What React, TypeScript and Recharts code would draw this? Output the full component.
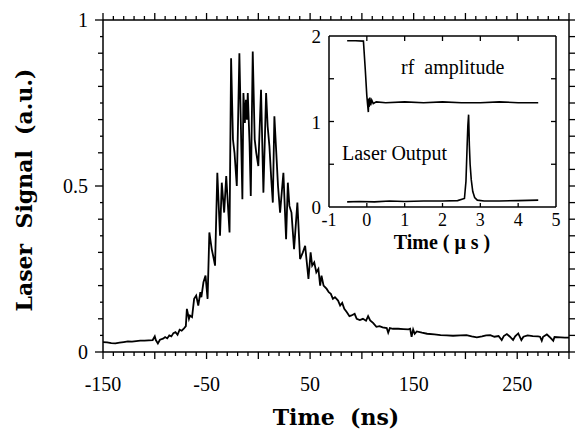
import React from 'react';
import { LineChart, Line, XAxis, YAxis } from 'recharts';

// main trace: laser signal vs time (ns)
const timeNs = [
  -150, -146, -142, -138, -134, -130, -126, -122, -118, -114, -110, -106, -102, -100, -99, -97, -95, -92, -90, -88,
  -86, -84, -82, -80, -78, -76, -74, -72, -70, -69, -67, -66, -64, -62, -60, -58, -56, -55, -53, -51,
  -49, -47.3, -45, -43, -41.8, -39.6, -37, -35.3, -33, -31, -29.5, -27.8, -26.3, -24.5, -23, -20.8, -18.3, -15.4, -14.4, -13,
  -12, -11, -10.2, -8.5, -7.3, -5.4, -3.5, -2, 0, 2.6, 4.9, 7.5, 9, 10.7, 12.5, 14, 15.5, 17, 19, 21,
  24.2, 26.8, 28.5, 30, 32, 34.5, 37.7, 40.3, 43, 45.2, 48.4, 50.5, 52, 54, 56, 58, 59.7, 61, 63, 66,
  68, 70, 72, 74, 77, 79, 81, 83, 85.5, 88, 90, 93, 95, 98, 101, 104, 106, 108, 111, 114,
  117, 120, 124, 125.4, 127, 130, 135, 140, 145, 146.6, 148, 149.5, 151, 153, 158, 163, 170, 176, 182, 188,
  195, 201, 206, 211, 216, 220, 224, 228, 232, 235, 237, 240, 243, 246, 248, 251, 254, 256, 260, 265,
  270, 272, 273.7, 275, 278.6, 281, 284.8, 286, 292, 296, 300,
];
const signal = [
  0.03, 0.029, 0.027, 0.026, 0.028, 0.03, 0.032, 0.031, 0.033, 0.034, 0.034, 0.035, 0.036, 0.047, 0.036, 0.026, 0.037, 0.04, 0.045, 0.041,
  0.05, 0.047, 0.057, 0.06, 0.052, 0.067, 0.064, 0.07, 0.078, 0.13, 0.1, 0.11, 0.105, 0.16, 0.17, 0.14, 0.18, 0.165, 0.21, 0.23,
  0.16, 0.36, 0.31, 0.28, 0.26, 0.54, 0.35, 0.51, 0.42, 0.53, 0.45, 0.36, 0.885, 0.64, 0.6, 0.5, 0.9, 0.46, 0.78, 0.69,
  0.76, 0.7, 0.78, 0.63, 0.47, 0.905, 0.64, 0.6, 0.56, 0.79, 0.48, 0.78, 0.68, 0.62, 0.52, 0.45, 0.71, 0.62, 0.5, 0.42,
  0.54, 0.34, 0.51, 0.44, 0.42, 0.31, 0.45, 0.28, 0.3, 0.32, 0.22, 0.3, 0.26, 0.27, 0.24, 0.25, 0.2, 0.23, 0.2, 0.19,
  0.18, 0.175, 0.16, 0.165, 0.155, 0.14, 0.148, 0.13, 0.12, 0.108, 0.11, 0.115, 0.1, 0.096, 0.1, 0.094, 0.108, 0.095, 0.087, 0.076,
  0.078, 0.074, 0.072, 0.058, 0.072, 0.07, 0.07, 0.069, 0.068, 0.07, 0.046, 0.068, 0.055, 0.062, 0.058, 0.055, 0.053, 0.051, 0.05, 0.049,
  0.05, 0.051, 0.047, 0.044, 0.047, 0.05, 0.051, 0.046, 0.048, 0.036, 0.048, 0.054, 0.046, 0.036, 0.047, 0.056, 0.036, 0.046, 0.05, 0.048,
  0.047, 0.046, 0.034, 0.046, 0.053, 0.046, 0.034, 0.045, 0.044, 0.043, 0.043,
];

// inset: rf amplitude and laser output vs time (us)
const rfTime = [-0.52, -0.3, -0.09, -0.04, 0.0, 0.02, 0.04, 0.05, 0.06, 0.08, 0.1, 0.13, 0.17, 0.25, 0.5, 1, 1.5, 2, 2.5, 3, 3.5, 4, 4.53];
const rfAmp = [1.945, 1.945, 1.94, 1.6, 1.3, 1.2, 1.11, 1.27, 1.17, 1.28, 1.19, 1.25, 1.21, 1.23, 1.22, 1.23, 1.22, 1.23, 1.22, 1.22, 1.23, 1.22, 1.22];
const laserTime = [-0.52, -0.2, 0.2, 0.6, 1.0, 1.5, 2.0, 2.4, 2.58, 2.62, 2.65, 2.67, 2.69, 2.71, 2.73, 2.76, 2.8, 2.85, 2.92, 3.1, 3.5, 4.0, 4.53];
const laserOut = [0.06, 0.065, 0.06, 0.07, 0.065, 0.07, 0.07, 0.075, 0.1, 0.3, 0.7, 0.95, 1.08, 0.72, 0.5, 0.32, 0.18, 0.11, 0.08, 0.07, 0.07, 0.075, 0.08];

const xLabels = [-150, -50, 50, 150, 250];
const yLabels = [0, 0.5, 1];
const insetXLabels = [-1, 0, 1, 2, 3, 4, 5];
const insetYLabels = [0, 1, 2];

const range = (a: number, b: number, step: number) => {
  const out: number[] = [];
  for (let v = a; v <= b + 1e-9; v += step) out.push(Math.round(v * 100) / 100);
  return out;
};
const xTicks = range(-150, 300, 10);
const yTicks = range(0, 1, 0.05);
const insetYTicks = [0, 0.5, 1, 1.5, 2];

const mainData = timeNs.map((t, i) => ({ t, s: signal[i] }));
const rfData = rfTime.map((t, i) => ({ t, v: rfAmp[i] }));
const laserData = laserTime.map((t, i) => ({ t, v: laserOut[i] }));

const serif = '"Liberation Serif", "Times New Roman", serif';
const titleFont = '"DejaVu Serif", serif';

const xLen = (v: number) => (Math.round(v) % 50 === 0 ? 7 : 4);
const yLen = (v: number) => {
  const k = Math.round(v * 100);
  if (k % 50 === 0) return 8;
  if (k % 10 === 0) return 5;
  return 3;
};

const num = (a: any) => Number(a);

// tick mark drawn as a path from (x, y) by (dx, dy)
const Mark = ({ x, y, dx, dy }: { x: number; y: number; dx: number; dy: number }) => (
  <path d={`M${x},${y}L${x + dx},${y + dy}`} stroke="#000" strokeWidth={1.3} fill="none" />
);

const BottomTick = (p: any) => {
  const v = num(p.payload.value);
  const x = num(p.x);
  const y = num(p.y);
  return (
    <g>
      <Mark x={x} y={y} dx={0} dy={xLen(v)} />
      {xLabels.includes(v) && (
        <text x={x} y={y + 39} textAnchor="middle" fontFamily={serif} fontSize={20} fill="#000">{v}</text>
      )}
    </g>
  );
};
const TopTick = (p: any) => {
  const v = num(p.payload.value);
  return <g><Mark x={num(p.x)} y={num(p.y)} dx={0} dy={-xLen(v)} /></g>;
};
const LeftTick = (p: any) => {
  const v = num(p.payload.value);
  const x = num(p.x);
  const y = num(p.y);
  return (
    <g>
      <Mark x={x} y={y} dx={-yLen(v)} dy={0} />
      {yLabels.includes(v) && (
        <text x={x - 15} y={y + 7} textAnchor="end" fontFamily={serif} fontSize={20} fill="#000">{v}</text>
      )}
    </g>
  );
};
const RightTick = (p: any) => <g><Mark x={num(p.x)} y={num(p.y)} dx={6} dy={0} /></g>;

const InsetBottomTick = (p: any) => {
  const v = num(p.payload.value);
  const x = num(p.x);
  const y = num(p.y);
  return (
    <g>
      {v > -1 && v < 5 && <Mark x={x} y={y} dx={0} dy={-4} />}
      <text x={x} y={y + 19} textAnchor="middle" fontFamily={serif} fontSize={18} fill="#000">{v}</text>
    </g>
  );
};
const InsetTopTick = (p: any) => {
  const v = num(p.payload.value);
  if (v <= -1 || v >= 5) return <g />;
  return <g><Mark x={num(p.x)} y={num(p.y)} dx={0} dy={5} /></g>;
};
const InsetLeftTick = (p: any) => {
  const v = num(p.payload.value);
  const x = num(p.x);
  const y = num(p.y);
  return (
    <g>
      {v > 0 && v < 2 && <Mark x={x} y={y} dx={5} dy={0} />}
      {insetYLabels.includes(v) && (
        <text x={x - 8} y={y + 7} textAnchor="end" fontFamily={serif} fontSize={19} fill="#000">{v}</text>
      )}
    </g>
  );
};
const InsetRightTick = (p: any) => {
  const v = num(p.payload.value);
  if (v <= 0 || v >= 2) return <g />;
  return <g><Mark x={num(p.x)} y={num(p.y)} dx={-5} dy={0} /></g>;
};

const axisLine = { stroke: '#000', strokeWidth: 1.5 };

export default function App() {
  return (
    <div style={{ position: 'absolute', left: 0, top: 0, width: 576, height: 435, background: '#fff' }}>
      <LineChart width={576} height={435} data={mainData} margin={{ top: 19, right: 0, bottom: 0, left: 0 }}>
        <XAxis dataKey="t" type="number" domain={[-150, 300]} ticks={xTicks} interval={0} allowDataOverflow
          height={83} axisLine={axisLine} tickLine={false} tickSize={0} tickMargin={0} tick={BottomTick} />
        <XAxis xAxisId="top" orientation="top" dataKey="t" type="number" domain={[-150, 300]} ticks={xTicks} interval={0}
          allowDataOverflow height={1} axisLine={axisLine} tickLine={false} tickSize={0} tickMargin={0} tick={TopTick} />
        <YAxis type="number" domain={[0, 1]} ticks={yTicks} interval={0} allowDataOverflow width={103}
          axisLine={axisLine} tickLine={false} tickSize={0} tickMargin={0} tick={LeftTick} />
        <YAxis yAxisId="right" orientation="right" type="number" domain={[0, 1]} ticks={yTicks} interval={0}
          allowDataOverflow width={7} axisLine={axisLine} tickLine={false} tickSize={0} tickMargin={0} tick={RightTick} />
        <Line dataKey="s" type="linear" stroke="#000" strokeWidth={1.8} dot={false} isAnimationActive={false} />
        <text x={32} y={190} transform="rotate(-90 32 190)" textAnchor="middle" fontFamily={titleFont}
          fontWeight="bold" fontSize={22} fill="#000" style={{ whiteSpace: 'pre' }}>Laser  Signal  (a.u.)</text>
        <text x={336} y={425} textAnchor="middle" fontFamily={titleFont} fontWeight="bold" fontSize={22} fill="#000"
          style={{ whiteSpace: 'pre' }}>Time  (ns)</text>
      </LineChart>

      <div style={{ position: 'absolute', left: 280, top: 25, width: 285, height: 232 }}>
        <LineChart width={285} height={232} margin={{ top: 10, right: 0, bottom: 0, left: 0 }}>
          <XAxis dataKey="t" type="number" domain={[-1, 5]} ticks={insetXLabels} interval={0} allowDataOverflow
            height={50} axisLine={axisLine} tickLine={false} tickSize={0} tickMargin={0} tick={InsetBottomTick} />
          <XAxis xAxisId="top" orientation="top" dataKey="t" type="number" domain={[-1, 5]} ticks={insetXLabels}
            interval={0} allowDataOverflow height={1} axisLine={axisLine} tickLine={false} tickSize={0} tickMargin={0}
            tick={InsetTopTick} />
          <YAxis type="number" domain={[0, 2]} ticks={insetYTicks} interval={0} allowDataOverflow width={49}
            axisLine={axisLine} tickLine={false} tickSize={0} tickMargin={0} tick={InsetLeftTick} />
          <YAxis yAxisId="right" orientation="right" type="number" domain={[0, 2]} ticks={insetYTicks}
            interval={0} allowDataOverflow width={9} axisLine={axisLine} tickLine={false} tickSize={0} tickMargin={0}
            tick={InsetRightTick} />
          <Line data={rfData} dataKey="v" type="linear" stroke="#000" strokeWidth={1.6} dot={false} isAnimationActive={false} />
          <Line data={laserData} dataKey="v" type="linear" stroke="#000" strokeWidth={1.6} dot={false} isAnimationActive={false} />
          <text x={121} y={49} fontFamily={serif} fontSize={20} fill="#000" style={{ whiteSpace: 'pre' }}>rf  amplitude</text>
          <text x={62} y={135} fontFamily={serif} fontSize={20} fill="#000">Laser Output</text>
          <text x={162} y={224} textAnchor="middle" fontFamily={serif} fontWeight="bold" fontSize={20} fill="#000"
            style={{ whiteSpace: 'pre' }}>Time ( μ s )</text>
        </LineChart>
      </div>
    </div>
  );
}
